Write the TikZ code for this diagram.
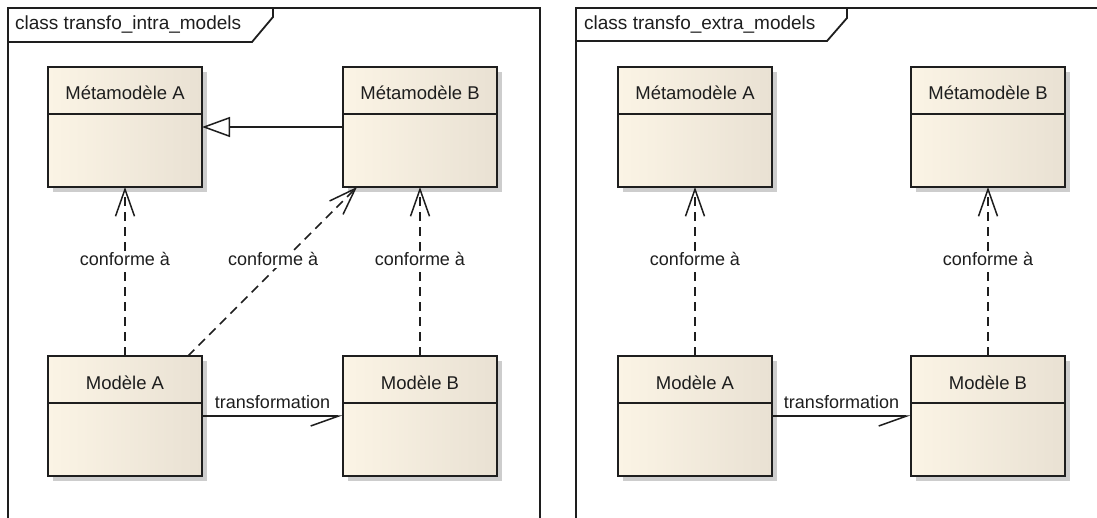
\documentclass[tikz,border=0pt]{standalone}
\usepackage{fontspec}
\setmainfont{Liberation Sans}
\usetikzlibrary{arrows.meta,shadows}
\definecolor{ink}{RGB}{30,30,30}
\definecolor{boxl}{RGB}{251,244,229}
\definecolor{boxr}{RGB}{233,225,211}
\tikzset{
  frame/.style={draw=ink, line width=1.8pt, line join=miter},
  umlbox/.style={draw=ink, line width=2pt, minimum width=154pt, minimum height=120pt,
    anchor=north west, inner sep=0pt, outer sep=0pt, left color=boxl, right color=boxr,
    drop shadow={shadow xshift=5pt, shadow yshift=-5pt, fill=black!28, opacity=0.7}},
  sepline/.style={draw=ink, line width=1.6pt},
  clsname/.style={anchor=base, inner sep=0pt, text=ink, font=\fontsize{18.5pt}{20pt}\selectfont},
  tabtxt/.style={anchor=base west, inner sep=0pt, text=ink, font=\fontsize{19pt}{21pt}\selectfont},
  lbl/.style={anchor=base, fill=white, inner sep=1.5pt, text=ink, font=\fontsize{18pt}{20pt}\selectfont},
  tlbl/.style={anchor=base, inner sep=0pt, yshift=8pt, text=ink, font=\fontsize{18pt}{20pt}\selectfont},
  gen/.style={draw=ink, line width=1.5pt, -{Triangle[length=28pt, width=20pt, fill=white]}},
  dep/.style={draw=ink, line width=1.5pt, dash pattern=on 9pt off 6pt, -{Straight Barb[length=27pt, width=19pt]}},
  nav/.style={draw=ink, line width=1.5pt, -{Straight Barb[length=28pt, width=20pt, right]}}
}
\newcommand\umlclass[4]{%
  \node[umlbox] (#1) at (#2,#3) {};
  \draw[sepline] ([yshift=-47pt]#1.north west) -- ([yshift=-47pt]#1.north east);
  \node[clsname] (#1-t) at ([yshift=-33pt]#1.north) {#4};
}
\begin{document}
\begin{tikzpicture}[x=1pt,y=-1pt]
\useasboundingbox (0,0) rectangle (1097,518);
\fill[white] (0,0) rectangle (1097,518);

% left frame
\draw[frame] (8,518) -- (8,8) -- (540,8) -- (540,518);
\draw[frame] (8,42) -- (252,42) -- (273,17) -- (273,8);
\node[tabtxt] (t1) at (15,30) {class transfo\_intra\_models};

% right frame
\draw[frame] (576,518) -- (576,8) -- (1097,8);
\draw[frame] (576,41) -- (827,41) -- (847,18) -- (847,8);
\node[tabtxt] (t2) at (584,30) {class transfo\_extra\_models};

% left classes
\umlclass{mma}{48}{67}{Métamodèle A}
\umlclass{mmb}{343}{67}{Métamodèle B}
\umlclass{ma}{48}{356}{Modèle A}
\umlclass{mb}{343}{356}{Modèle B}

% right classes
\umlclass{rmma}{618}{67}{Métamodèle A}
\umlclass{rmmb}{911}{67}{Métamodèle B}
\umlclass{rma}{618}{356}{Modèle A}
\umlclass{rmb}{911}{356}{Modèle B}

% left connectors
\draw[gen] (mmb.west) -- (mma.east);
\draw[dep] (ma.north) -- node[lbl, pos=0.533] {conforme à} (mma.south);
\draw[dep] ([xshift=-14pt]ma.north east) -- node[lbl, pos=0.533, xshift=-5pt] {conforme à} ([xshift=14pt]mmb.south west);
\draw[dep] (mb.north) -- node[lbl, pos=0.533] {conforme à} (mmb.south);
\draw[nav] (ma.east) -- node[tlbl] {transformation} (mb.west);

% right connectors
\draw[dep] (rma.north) -- node[lbl, pos=0.533] {conforme à} (rmma.south);
\draw[dep] (rmb.north) -- node[lbl, pos=0.533] {conforme à} (rmmb.south);
\draw[nav] (rma.east) -- node[tlbl] {transformation} (rmb.west);
\end{tikzpicture}
\end{document}
